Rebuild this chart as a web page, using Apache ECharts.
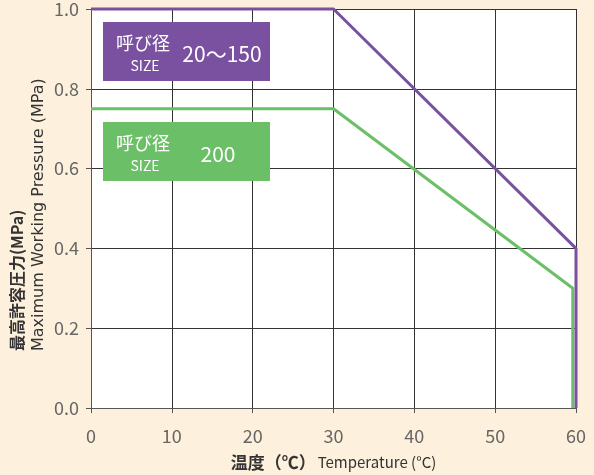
<!DOCTYPE html>
<html><head><meta charset="utf-8">
<script src="https://cdn.jsdelivr.net/npm/echarts@6/dist/echarts.min.js"></script>
<style>html,body{margin:0;padding:0;background:#FDF0DC;}#c{width:594px;height:475px;}</style>
</head><body><div id="c"></div>
<script>
const xTicks = [0, 10, 20, 30, 40, 50, 60];
const yTicks = [0.0, 0.2, 0.4, 0.6, 0.8, 1.0];
const size150Temp = [0, 30, 60, 60];
const size150Press = [1.0, 1.0, 0.4, 0.0];
const size200Temp = [0, 30, 59.6, 59.6];
const size200Press = [0.75, 0.75, 0.3, 0.0];
const labels150 = ['呼び径', 'SIZE', '20〜150'];
const labels200 = ['呼び径', 'SIZE', '200'];

const PURPLE = '#7A50A0', GREEN = '#6ABF67';
const FONT = '"Noto Sans CJK JP", "Noto Sans", sans-serif';
const pairs = (xs, ys) => xs.map((x, i) => [x, ys[i]]);

const chart = echarts.init(document.getElementById('c'));

function box(y, color, lab) {
  return [
    {type:'rect', shape:{x:103, y:y, width:167, height:59}, style:{fill:color}, z:100},
    {type:'text', x:143, y:y+21, style:{text:lab[0], fill:'#fff', font:'18px '+FONT, align:'center', verticalAlign:'middle'}, z:101},
    {type:'text', x:145, y:y+44, style:{text:lab[1], fill:'#fff', font:'14px '+FONT, align:'center', verticalAlign:'middle'}, z:101},
    {type:'text', x:(lab[2].length>3?222:218), y:y+32, style:{text:lab[2], fill:'#fff', font:'21px '+FONT, align:'center', verticalAlign:'middle'}, z:101}
  ];
}

chart.setOption({
  backgroundColor: '#FDF0DC',
  animation: false,
  grid: {left:91, right:18, top:9, bottom:67, show:true, backgroundColor:'#fff', borderWidth:0, containLabel:false, outerBoundsMode:'none'},
  xAxis: {
    type:'value', min:xTicks[0], max:xTicks[xTicks.length-1], interval:10,
    axisLine:{show:true, onZero:false, lineStyle:{color:'#555', width:1}},
    axisTick:{show:true, length:5, lineStyle:{color:'#555'}},
    axisLabel:{color:'#666', fontSize:18, fontFamily:FONT, margin:19},
    splitLine:{show:true, lineStyle:{color:'#333', width:1}},
    name:'{a|温度（℃）}{b|Temperature (°C)}', nameLocation:'middle', nameGap:46,
    nameTextStyle:{rich:{a:{fontSize:17, fontWeight:'bold', color:'#333', fontFamily:FONT, verticalAlign:'bottom'}, b:{fontSize:15, color:'#333', fontFamily:FONT, verticalAlign:'bottom', padding:[0,0,1,2]}}}
  },
  yAxis: {
    type:'value', min:yTicks[0], max:yTicks[yTicks.length-1], interval:0.2,
    axisLine:{show:true, lineStyle:{color:'#555', width:1}},
    axisTick:{show:true, length:5, lineStyle:{color:'#555'}},
    axisLabel:{color:'#666', fontSize:18, fontFamily:FONT, margin:12, formatter:v=>v.toFixed(1)},
    splitLine:{show:true, lineStyle:{color:'#333', width:1}}
  },
  graphic: [
    {type:'text', x:17, y:351, rotation:Math.PI/2, style:{text:'最高許容圧力(MPa)', fill:'#333', font:'bold 16px '+FONT, align:'left', verticalAlign:'middle'}},
    {type:'text', x:39, y:351, rotation:Math.PI/2, style:{text:'Maximum Working Pressure (MPa)', fill:'#333', font:'16px "DejaVu Sans", sans-serif', align:'left', verticalAlign:'middle'}},
    ...box(22, PURPLE, labels150),
    ...box(122, GREEN, labels200)
  ],
  series: [
    {type:'line', data:pairs(size200Temp, size200Press), showSymbol:false, clip:false, lineStyle:{color:GREEN, width:3}, itemStyle:{color:GREEN}, z:3},
    {type:'line', data:pairs(size150Temp, size150Press), showSymbol:false, clip:false, lineStyle:{color:PURPLE, width:3}, itemStyle:{color:PURPLE}, z:4}
  ]
});
</script></body></html>
